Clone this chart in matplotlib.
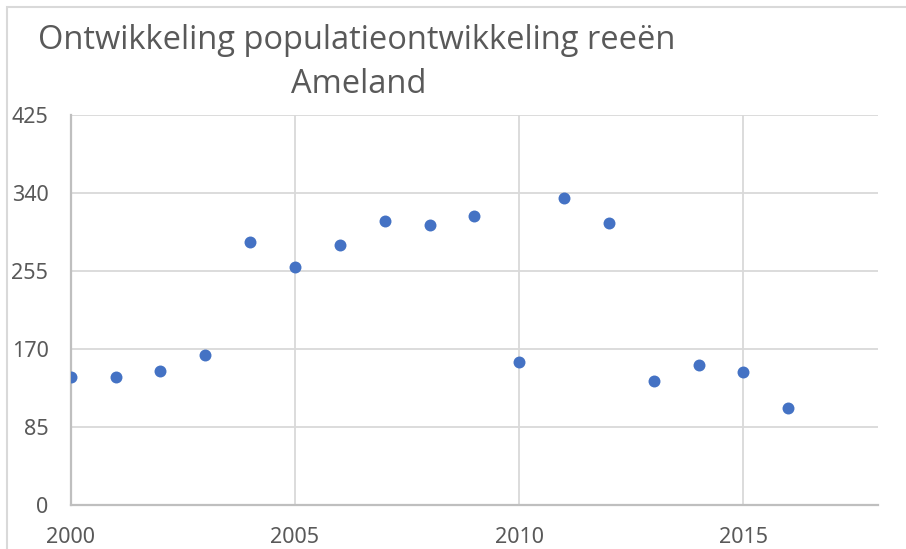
import matplotlib
matplotlib.use('Agg')
import matplotlib.pyplot as plt
from matplotlib.patches import Rectangle

# population development of roe deer on Ameland
years = [2000, 2001, 2002, 2003, 2004, 2005, 2006, 2007, 2008,
         2009, 2010, 2011, 2012, 2013, 2014, 2015, 2016]
counts = [139, 139, 146, 164, 287, 259, 283, 309, 305,
          315, 156, 335, 307, 135, 153, 145, 106]

y_ticks = [0, 85, 170, 255, 340, 425]
x_ticks = [2000, 2005, 2010, 2015]

title_line1 = 'Ontwikkeling populatieontwikkeling reeën'
title_line2 = 'Ameland'

text_grey = '#595959'
W, H = 906, 549

plt.rcParams['font.family'] = ['Noto Sans', 'DejaVu Sans']

fig = plt.figure(figsize=(W / 100, H / 100), dpi=100)
ax = fig.add_axes([70.7 / W, 1 - 505 / H, (878 - 70.7) / W, (505 - 115) / H])

ax.scatter(years, counts, s=74, color='#4472c4', zorder=3, linewidths=0)

ax.set_xlim(2000, 2018)
ax.set_ylim(0, 425)
ax.set_xticks(x_ticks)
ax.set_yticks(y_ticks)
ax.grid(True, color='#d9d9d9', lw=1.3)
ax.set_axisbelow(True)

for side in ['top', 'right']:
    ax.spines[side].set_visible(False)
for side in ['left', 'bottom']:
    ax.spines[side].set_color('#bfbfbf')
    ax.spines[side].set_linewidth(1.6)

ax.tick_params(length=0, labelsize=15.5, labelcolor=text_grey)
ax.tick_params(axis='y', pad=16)
ax.tick_params(axis='x', pad=16)

fig.text(357 / W, 1 - 49 / H, title_line1, ha='center', va='baseline',
         fontsize=23.5, color=text_grey, family=['Open Sans', 'DejaVu Sans'])
fig.text(359 / W, 1 - 93 / H, title_line2, ha='center', va='baseline',
         fontsize=23.5, color=text_grey, family=['Open Sans', 'DejaVu Sans'])

# chart area border (cropped at right and bottom)
fig.add_artist(Rectangle((7 / W, -0.5), 2, 1.5 - 7 / H, transform=fig.transFigure,
                         fill=False, ec='#d9d9d9', lw=1.5))

fig.savefig('out.png', dpi=100)
